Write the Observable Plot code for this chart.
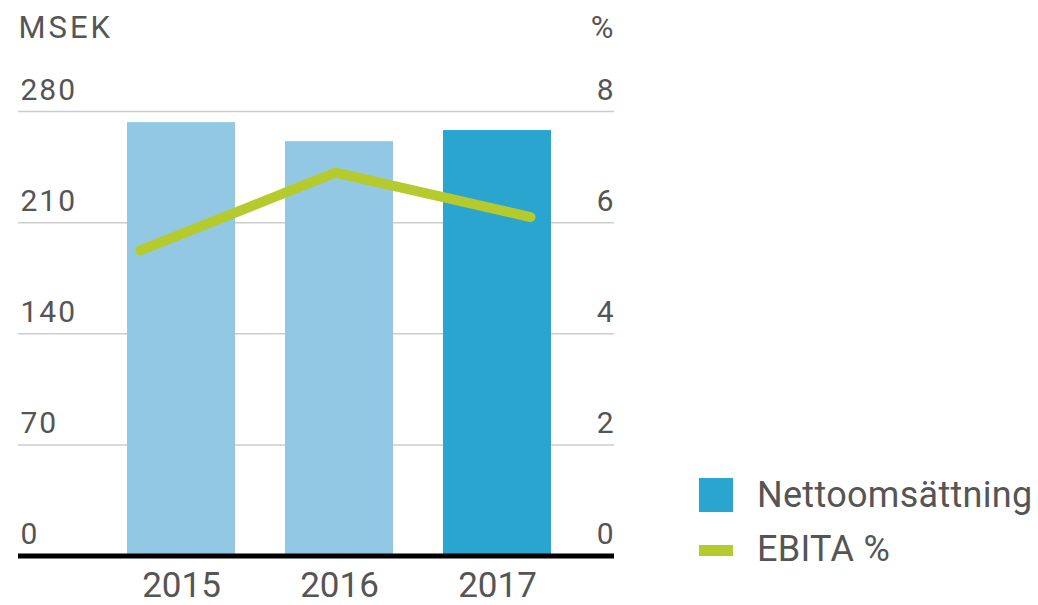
<!DOCTYPE html>
<html>
<head>
<meta charset="utf-8">
<script src="https://cdn.jsdelivr.net/npm/d3@7"></script>
<script src="https://cdn.jsdelivr.net/npm/@observablehq/plot@0.6"></script>
<style>
  html, body { margin: 0; padding: 0; background: #fff; }
  #wrap { position: relative; width: 1038px; height: 605px; font-family: Roboto, sans-serif; }
  #wrap svg { position: absolute; left: 0; top: 0; }
  .yt text { letter-spacing: 2px; }
  .mt text { letter-spacing: 3px; }
  .legend { position: absolute; left: 699px; top: 0; font-family: Roboto, sans-serif; font-size: 36px; color: #555; }
  .legend .sw { position: absolute; left: 0; }
  .legend .lab { position: absolute; left: 58px; line-height: 1; white-space: nowrap; letter-spacing: 0.3px; }
</style>
</head>
<body>
<div id="wrap"></div>
<script>
// Data
const years = ["2015", "2016", "2017"];
const nettoomsattning = [273, 261, 268];   // MSEK
const ebitaPct = [5.5, 6.9, 6.1];          // %
const leftTicks = [0, 70, 140, 210, 280];
const rightTicks = [0, 2, 4, 6, 8];
const seriesNames = ["Nettoomsättning", "EBITA %"];

const barLight = "#93c8e4";
const barDark = "#2aa5cf";
const green = "#b5cb2d";
const textCol = "#555555";

const rows = years.map((y, i) => ({year: y, sales: nettoomsattning[i], ebita: ebitaPct[i]}));

const W = 1038, H = 605;
const common = {width: W, height: H, marginLeft: 18, marginRight: 424, marginTop: 111, marginBottom: 49.5};

const p1 = Plot.plot({
  ...common,
  style: {fontFamily: "Roboto, sans-serif", background: "transparent", overflow: "visible"},
  x: {domain: years, paddingInner: 0.316, paddingOuter: 0.544, align: 0.634},
  y: {domain: [0, 280]},
  color: {domain: years, range: [barLight, barLight, barDark]},
  marks: [
    Plot.ruleY(leftTicks.filter(d => d > 0), {stroke: "#cccccc", strokeWidth: 1.5}),
    Plot.barY(rows, {x: "year", y: "sales", fill: "year"}),
    Plot.ruleY([0], {stroke: "#000", strokeWidth: 5}),
    Plot.axisX({anchor: "bottom", tickSize: 0, tickPadding: 16, fontSize: 35, fill: textCol, label: null}),
    Plot.axisY({anchor: "left", ticks: leftTicks, tickSize: 0, tickPadding: 0, textAnchor: "start",
      lineAnchor: "bottom", dx: 2, dy: -12, fontSize: 30, fill: textCol, label: null, className: "yt"}),
    Plot.text(["MSEK"], {frameAnchor: "top-left", textAnchor: "start", lineAnchor: "bottom", dy: -74,
      fontSize: 31, fill: textCol, className: "mt"})
  ]
});

const p2 = Plot.plot({
  ...common,
  style: {fontFamily: "Roboto, sans-serif", background: "transparent", overflow: "visible"},
  x: {type: "point", domain: years, padding: 0.524, align: 0.59, axis: null},
  y: {domain: [0, 8], axis: null},
  marks: [
    Plot.line(rows, {x: "year", y: "ebita", stroke: green, strokeWidth: 10, strokeLinecap: "round", strokeLinejoin: "round"}),
    Plot.axisY({anchor: "right", ticks: rightTicks, tickSize: 0, tickPadding: 0, textAnchor: "end",
      lineAnchor: "bottom", dx: -1, dy: -12, fontSize: 30, fill: textCol, label: null}),
    Plot.text(["%"], {frameAnchor: "top-right", textAnchor: "end", lineAnchor: "bottom", dx: -1, dy: -74,
      fontSize: 31, fill: textCol})
  ]
});

const wrap = document.getElementById("wrap");
wrap.appendChild(p1);
wrap.appendChild(p2);

// Legend
const legend = document.createElement("div");
legend.className = "legend";
legend.innerHTML = `
  <div class="sw" style="top:478px;width:34px;height:34px;background:${barDark}"></div>
  <div class="lab" style="top:477px;">${seriesNames[0]}</div>
  <div class="sw" style="top:545px;width:34px;height:11px;background:${green}"></div>
  <div class="lab" style="top:531px;">${seriesNames[1]}</div>`;
wrap.appendChild(legend);
</script>
</body>
</html>
